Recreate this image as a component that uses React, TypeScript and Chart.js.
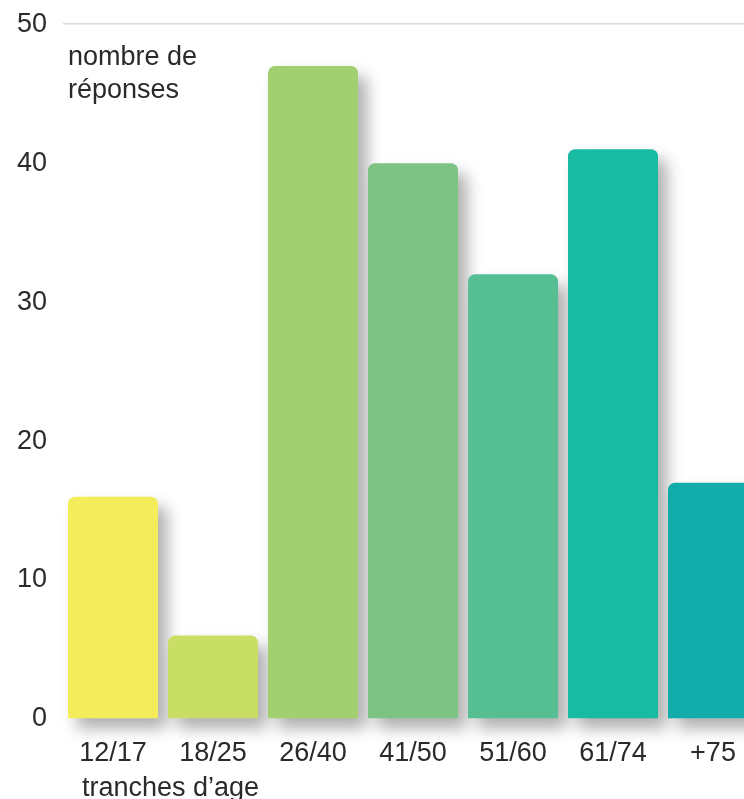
import React, { useEffect, useRef } from "react";
import { Chart, registerables } from "chart.js";

Chart.register(...registerables);

const categories = ["12/17", "18/25", "26/40", "41/50", "51/60", "61/74", "+75"];
const responses = [16, 6, 47, 40, 32, 41, 17];
const barColors = ["#F5EC5B", "#C9DE65", "#A2CF6F", "#7DC383", "#55BE93", "#19BAA2", "#12ADAA"];
const yTitleLines = ["nombre de", "réponses"];
const xTitle = "tranches d\u2019age";

const FONT = "'Liberation Sans', Arial, Helvetica, sans-serif";
const TEXT = "#2a2a2a";

const shadowPlugin = {
  id: "barShadow",
  beforeDatasetsDraw(chart: any) {
    const ctx = chart.ctx;
    ctx.save();
    ctx.shadowColor = "rgba(0,0,0,0.32)";
    ctx.shadowBlur = 16;
    ctx.shadowOffsetX = 9;
    ctx.shadowOffsetY = 10;
  },
  afterDatasetsDraw(chart: any) {
    chart.ctx.restore();
  },
};

const titlesPlugin = {
  id: "customTitles",
  afterDraw(chart: any) {
    const ctx = chart.ctx;
    const area = chart.chartArea;
    ctx.save();
    ctx.fillStyle = TEXT;
    ctx.font = `27px ${FONT}`;
    ctx.textAlign = "left";
    ctx.textBaseline = "alphabetic";
    yTitleLines.forEach((line, i) => {
      ctx.fillText(line, area.left + 5, area.top + 41 + i * 33);
    });
    ctx.fillText(xTitle, area.left + 19, chart.height - 12);
    ctx.restore();
  },
};

export default function App() {
  const ref = useRef<HTMLCanvasElement | null>(null);

  useEffect(() => {
    document.body.style.margin = "0";
    document.body.style.overflow = "hidden";
    const canvas = ref.current;
    if (!canvas) return;
    const chart = new Chart(canvas, {
      type: "bar",
      data: {
        labels: categories,
        datasets: [
          {
            data: responses,
            backgroundColor: barColors,
            borderWidth: 0,
            borderRadius: { topLeft: 7, topRight: 7, bottomLeft: 0, bottomRight: 0 },
            borderSkipped: false,
            categoryPercentage: 1,
            barPercentage: 0.9,
            clip: false as any,
          },
        ],
      },
      options: {
        animation: false,
        responsive: true,
        maintainAspectRatio: false,
        layout: { padding: { top: 0, right: 0, bottom: 0, left: 0 } },
        plugins: {
          legend: { display: false },
          tooltip: { enabled: false },
          title: { display: false },
        },
        scales: {
          x: {
            grid: { display: false, drawTicks: false },
            border: { display: false },
            ticks: {
              color: TEXT,
              font: { family: FONT, size: 27 },
              padding: 18,
              maxRotation: 0,
            },
            afterFit(scale: any) {
              scale.height = 89;
            },
          },
          y: {
            min: 0,
            max: 50,
            border: { display: false },
            grid: {
              drawTicks: false,
              lineWidth: 1.5,
              color: (c: any) => (c.tick && c.tick.value === 50 ? "#d9d9d9" : "rgba(0,0,0,0)"),
            },
            ticks: {
              stepSize: 10,
              color: TEXT,
              font: { family: FONT, size: 27 },
              padding: 16,
            },
            afterFit(scale: any) {
              scale.width = 63;
            },
          },
        },
      },
      plugins: [shadowPlugin, titlesPlugin],
    });
    return () => chart.destroy();
  }, []);

  return (
    <div style={{ width: 763, height: 816, marginTop: -8, position: "relative" }}>
      <canvas ref={ref} />
    </div>
  );
}
